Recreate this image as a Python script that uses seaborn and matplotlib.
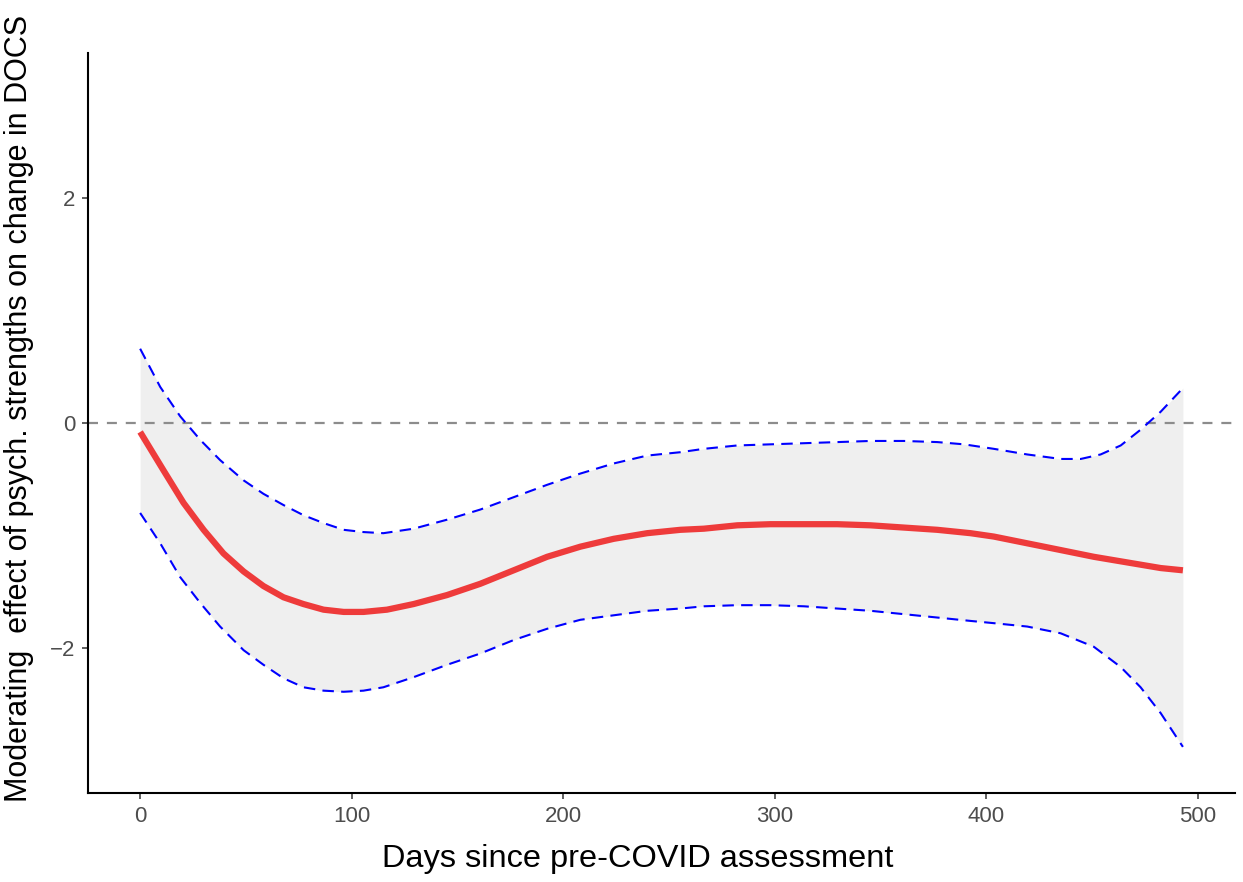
import numpy as np
import pandas as pd
import matplotlib
matplotlib.use("Agg")
import matplotlib.pyplot as plt
import seaborn as sns

# values
days = [0, 11, 20.5, 30, 39.4, 48.9, 58.3, 67.8, 77.2, 86.7, 96.2, 105.6, 116.7,
        129.3, 145.1, 160.8, 176.6, 192.4, 208.1, 223.9, 239.7, 255.4, 266.5, 282.3,
        298, 313.8, 329.6, 345.3, 361.1, 376.9, 392.6, 403.6, 419.4, 435.2, 450.9,
        466.7, 482.5, 493]
effect = [-0.08, -0.42, -0.71, -0.95, -1.16, -1.32, -1.45, -1.55, -1.61, -1.66, -1.68,
          -1.68, -1.66, -1.61, -1.53, -1.43, -1.31, -1.19, -1.10, -1.03, -0.98, -0.95,
          -0.94, -0.91, -0.90, -0.90, -0.90, -0.91, -0.93, -0.95, -0.98, -1.01, -1.07,
          -1.13, -1.19, -1.24, -1.29, -1.31]

upper_days = [0, 9.5, 18.9, 28.4, 37.8, 48.9, 58.3, 67.8, 77.2, 86.7, 96.2, 105.6, 115,
              129.3, 145.1, 160.8, 176.6, 192.4, 208.1, 223.9, 239.7, 255.4, 266.5,
              282.3, 298, 313.8, 329.6, 345.3, 361.1, 376.9, 389.5, 403.6, 419.4, 435.2,
              444.7, 454.1, 463.6, 473, 482.5, 493]
upper = [0.66, 0.32, 0.06, -0.15, -0.33, -0.51, -0.63, -0.73, -0.82, -0.89, -0.95, -0.97,
         -0.98, -0.94, -0.86, -0.77, -0.66, -0.55, -0.45, -0.36, -0.29, -0.26, -0.23,
         -0.20, -0.19, -0.18, -0.17, -0.16, -0.16, -0.17, -0.19, -0.23, -0.28, -0.32,
         -0.32, -0.28, -0.20, -0.06, 0.10, 0.31]

lower_days = [0, 9.5, 18.9, 28.4, 37.8, 48.9, 58.3, 67.8, 77.2, 86.7, 96.2, 105.6, 115,
              129.3, 145.1, 160.8, 176.6, 192.4, 208.1, 223.9, 239.7, 255.4, 266.5,
              282.3, 298, 313.8, 329.6, 345.3, 361.1, 376.9, 392.6, 403.6, 419.4, 435.2,
              450.9, 463.6, 473, 482.5, 493]
lower = [-0.80, -1.07, -1.37, -1.60, -1.81, -2.02, -2.15, -2.27, -2.35, -2.38, -2.39,
         -2.38, -2.35, -2.26, -2.15, -2.05, -1.93, -1.83, -1.75, -1.71, -1.67, -1.65,
         -1.63, -1.62, -1.62, -1.63, -1.65, -1.67, -1.70, -1.73, -1.76, -1.78, -1.81,
         -1.87, -1.99, -2.17, -2.35, -2.58, -2.88]

sns.set_theme(style="white")
plt.rcParams['font.family'] = ['Liberation Sans', 'DejaVu Sans']

fig = plt.figure(figsize=(12.43, 8.82), dpi=100)
ax = fig.add_axes([0.0708, 0.1009, 0.9228, 0.8391])

# confidence band on a shared grid
grid = np.linspace(0, 493, 500)
up_i = np.interp(grid, upper_days, upper)
lo_i = np.interp(grid, lower_days, lower)
ax.fill_between(grid, lo_i, up_i, color="#EFEFEF", linewidth=0, zorder=1)

ax.axhline(0, color="#8C8C8C", lw=1.6, dashes=(4.5, 4), zorder=2)

df_mid = pd.DataFrame({"days": days, "effect": effect})
df_up = pd.DataFrame({"days": upper_days, "effect": upper})
df_lo = pd.DataFrame({"days": lower_days, "effect": lower})

sns.lineplot(data=df_up, x="days", y="effect", ax=ax, color="blue", lw=1.5, zorder=3)
sns.lineplot(data=df_lo, x="days", y="effect", ax=ax, color="blue", lw=1.5, zorder=3)
for ln in ax.lines[-2:]:
    ln.set_dashes((5.5, 3.5))
sns.lineplot(data=df_mid, x="days", y="effect", ax=ax, color="#EE3B3B", lw=4.5,
             zorder=4, solid_capstyle="butt", solid_joinstyle="round")

ax.set_xlim(-24.65, 517.65)
ax.set_ylim(-3.29, 3.29)
ax.set_xticks([0, 100, 200, 300, 400, 500])
ax.set_yticks([-2, 0, 2])

sns.despine(ax=ax)
for s in ["left", "bottom"]:
    ax.spines[s].set_color("black")
    ax.spines[s].set_linewidth(1.5)

ax.tick_params(axis="both", which="major", length=4, width=1.1, color="#333333",
               labelsize=16, labelcolor="#4D4D4D", bottom=True, left=True, pad=5)

ax.set_xlabel("Days since pre-COVID assessment", fontsize=23.4, color="black")
ax.set_ylabel("Moderating  effect of psych. strengths on change in DOCS", fontsize=22,
              color="black")
ax.xaxis.set_label_coords(0.479, -0.069)
ax.yaxis.set_label_coords(-0.047, 0.52)

fig.savefig("out.png", dpi=100)
